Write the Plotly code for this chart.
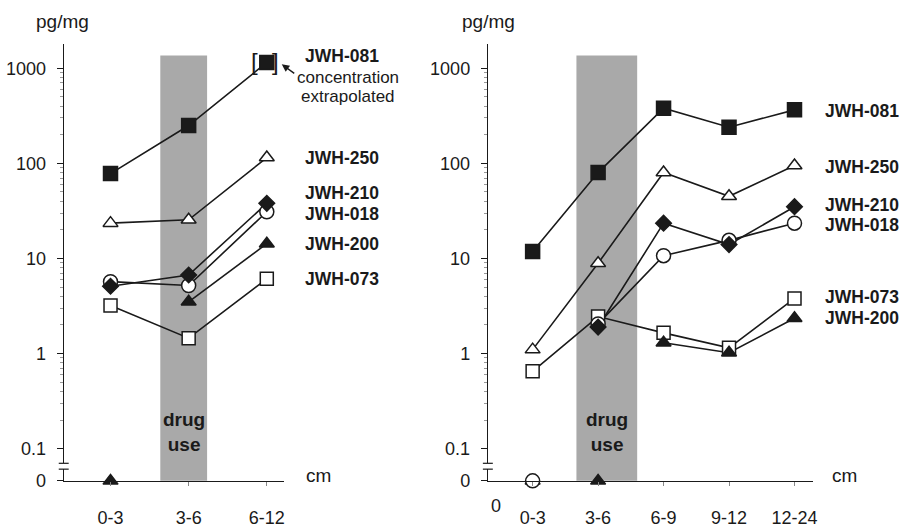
import math
import plotly.graph_objects as go

W, H = 912, 528

# ---------------- data ----------------
LEFT_CATS = ["0-3", "3-6", "6-12"]
RIGHT_CATS = ["0-3", "3-6", "6-9", "9-12", "12-24"]
SERIES = ["JWH-081", "JWH-250", "JWH-210", "JWH-018", "JWH-200", "JWH-073"]

# left panel, pg/mg (0 = not detected, plotted on the "0" row)
L_JWH081 = [78, 250, 1150]
L_JWH250 = [23.5, 25.5, 115]
L_JWH210 = [5.1, 6.7, 38]
L_JWH018 = [5.7, 5.2, 31]
L_JWH200 = [0, 3.5, 14.3]
L_JWH073 = [3.2, 1.45, 6.1]

# right panel, pg/mg (None = no value)
R_JWH081 = [11.8, 80, 380, 240, 365]
R_JWH250 = [1.1, 8.9, 80, 45, 95]
R_JWH210 = [None, 1.9, 23.5, 14, 35]
R_JWH018 = [0, 2.05, 10.7, 15.5, 23.5]
R_JWH073 = [0.65, 2.45, 1.65, 1.15, 3.8]
R_JWH200 = [0, 0, 1.3, 1.02, 2.35]

LEFT = dict(zip(SERIES, [L_JWH081, L_JWH250, L_JWH210, L_JWH018, L_JWH200, L_JWH073]))
RIGHT = dict(zip(SERIES, [R_JWH081, R_JWH250, R_JWH210, R_JWH018, R_JWH200, R_JWH073]))

# ---------------- styling ----------------
FONT = "Liberation Sans, Arial, sans-serif"
INK = "#1a1a1a"
BAND = "#a9a9a9"

STYLE = {
    "JWH-081": dict(symbol="square", size=14, color=INK),
    "JWH-250": dict(symbol="triangle-up", size=13, color="white"),
    "JWH-210": dict(symbol="diamond", size=12, color=INK),
    "JWH-018": dict(symbol="circle", size=14, color="white"),
    "JWH-200": dict(symbol="triangle-up", size=13, color=INK),
    "JWH-073": dict(symbol="square", size=13, color="white"),
}
MARKER_ORDER = ["JWH-250", "JWH-073", "JWH-018", "JWH-081", "JWH-210", "JWH-200"]
ZERO_ORDER = ["JWH-200", "JWH-250", "JWH-073", "JWH-018", "JWH-081", "JWH-210"]


def px_x(p):
    return p / W


def px_y(p):
    return 1 - p / H


LOG_DOM = [px_y(475), px_y(45)]
ZERO_DOM = [px_y(493), px_y(481)]
LOG_RANGE = [-1.154, 3.256]

fig = go.Figure()


def add_panel(data, cats, xa, ya_log, ya_zero):
    xs = list(range(len(cats)))
    for name in SERIES:
        vals = data[name]
        ys = [v if (v is not None and v > 0) else None for v in vals]
        fig.add_trace(go.Scatter(
            x=xs, y=ys, mode="lines", xaxis=xa, yaxis=ya_log,
            line=dict(color=INK, width=1.6), connectgaps=False,
            hoverinfo="skip", showlegend=False, cliponaxis=False))
    for name in MARKER_ORDER:
        vals = data[name]
        st = STYLE[name]
        px_ = [x for x, v in zip(xs, vals) if v is not None and v > 0]
        py_ = [v for v in vals if v is not None and v > 0]
        fig.add_trace(go.Scatter(
            x=px_, y=py_, mode="markers", xaxis=xa, yaxis=ya_log, name=name,
            marker=dict(symbol=st["symbol"], size=st["size"], color=st["color"],
                        line=dict(color=INK, width=1.5)),
            showlegend=False, cliponaxis=False))
    for name in ZERO_ORDER:
        vals = data[name]
        st = STYLE[name]
        zx = [x for x, v in zip(xs, vals) if v == 0]
        if not zx:
            continue
        fig.add_trace(go.Scatter(
            x=zx, y=[0] * len(zx), mode="markers", xaxis=xa, yaxis=ya_zero, name=name,
            marker=dict(symbol=st["symbol"], size=st["size"], color=st["color"],
                        line=dict(color=INK, width=1.5)),
            showlegend=False, cliponaxis=False))


add_panel(LEFT, LEFT_CATS, "x", "y", "y2")
add_panel(RIGHT, RIGHT_CATS, "x2", "y3", "y4")

tickfont = dict(family=FONT, size=18, color=INK)
major = [0.1, 1, 10, 100, 1000]
minor = [m * 10 ** e for e in range(-1, 3) for m in range(2, 10)] + [2000]


def log_axis(anchor):
    return dict(type="log", domain=LOG_DOM, range=LOG_RANGE, anchor=anchor,
                showline=True, linecolor=INK, linewidth=1.2, showgrid=False, zeroline=False,
                tickvals=major, ticktext=["0.1", "1", "10", "100", "1000"],
                ticks="outside", ticklen=6, tickcolor=INK, tickwidth=1.2,
                tickfont=tickfont, ticklabelstandoff=7,
                minor=dict(tickvals=minor, ticks="outside", ticklen=3,
                           tickcolor="#999999", tickwidth=1))


def zero_axis(anchor):
    return dict(domain=ZERO_DOM, range=[0, 1], anchor=anchor,
                showline=True, linecolor=INK, linewidth=1.2, showgrid=False, zeroline=False,
                tickvals=[0], ticktext=["0"], ticks="outside", ticklen=6,
                tickcolor=INK, tickwidth=1.2, tickfont=tickfont, ticklabelstandoff=7)


def x_axis(dom, rng, cats, anchor):
    return dict(domain=dom, range=rng, anchor=anchor, showline=True, linecolor=INK,
                linewidth=1.2, showgrid=False, zeroline=False,
                tickvals=list(range(len(cats))), ticktext=cats,
                ticks="outside", ticklen=4, tickcolor="#888888", tickwidth=1,
                tickfont=tickfont, ticklabelstandoff=16)


fig.update_layout(
    width=W, height=H, margin=dict(l=0, r=0, t=0, b=0),
    paper_bgcolor="white", plot_bgcolor="white", showlegend=False,
    font=dict(family=FONT, color=INK),
    xaxis=x_axis([px_x(64), px_x(285)], [-0.599, 2.217], LEFT_CATS, "y2"),
    yaxis=log_axis("x"),
    yaxis2=zero_axis("x"),
    xaxis2=x_axis([px_x(490), px_x(817)], [-0.684, 4.289], RIGHT_CATS, "y4"),
    yaxis3=log_axis("x2"),
    yaxis4=zero_axis("x2"),
)


def note(text, x, y, size=18, xref="paper", xanchor="center", **kw):
    fig.add_annotation(xref=xref, yref="paper", x=x, y=y, text=text, showarrow=False,
                       xanchor=xanchor, yanchor="middle", borderpad=0,
                       font=dict(family=FONT, size=size, color=INK), **kw)


# drug-use bands
bands = [("x", 0.637, 1.236), ("x2", 0.669, 1.597)]
for xr, b0, b1 in bands:
    fig.add_shape(type="rect", xref=xr, yref="paper", x0=b0, x1=b1,
                  y0=px_y(493), y1=px_y(57), fillcolor=BAND, line=dict(width=0), layer="below")
    note("<b>drug<br>use</b>", (b0 + b1) / 2, px_y(443), size=19, xref=xr, align="center")

# axis-break marks
for ax_px in (64, 490):
    for yy in (475, 481):
        fig.add_shape(type="line", xref="paper", yref="paper",
                      x0=px_x(ax_px - 5), x1=px_x(ax_px + 5), y0=px_y(yy), y1=px_y(yy),
                      line=dict(color=INK, width=1.2))

# unit labels
for cx in (63, 491):
    note("pg/mg", px_x(cx), px_y(22), size=19)
for cx in (320, 848):
    note("cm", px_x(cx), px_y(488), size=19)

# stray "0" x label on right panel
note("0", -0.56, px_y(519), xref="x2")

# series labels
left_label_y = {"JWH-081": 57, "JWH-250": 162, "JWH-210": 198, "JWH-018": 219,
                "JWH-200": 250, "JWH-073": 286}
right_label_y = {"JWH-081": 114, "JWH-250": 171, "JWH-210": 210, "JWH-018": 231,
                 "JWH-073": 305, "JWH-200": 326}
for lx, table in ((305, left_label_y), (828, right_label_y)):
    for name, yy in table.items():
        note("<b>%s</b>" % name, px_x(lx), px_y(yy), size=17.5, xanchor="left")

# extrapolation note
note("concentration", px_x(350), px_y(79), size=17)
note("extrapolated", px_x(350), px_y(99), size=17)
fig.add_annotation(xref="paper", yref="paper", x=px_x(283), y=px_y(66), text="",
                   showarrow=True, ax=14, ay=10, arrowhead=2, arrowsize=1,
                   arrowwidth=1.5, arrowcolor=INK, standoff=0)

# brackets around the extrapolated value
last_pos = len(LEFT_CATS) - 1
last_val = math.log10(L_JWH081[-1])
for txt, shift in (("[", -12), ("]", 9)):
    fig.add_annotation(xref="x", yref="y", x=last_pos, y=last_val, text=txt,
                       showarrow=False, xshift=shift, yshift=1, xanchor="center",
                       yanchor="middle",
                       font=dict(family=FONT, size=24, color=INK))

fig.write_html("out.html", config={"displayModeBar": False},
               post_script="document.body.style.margin='0';")
